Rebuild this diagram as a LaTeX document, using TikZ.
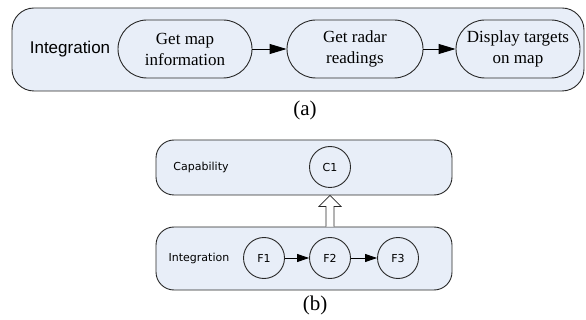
\documentclass[tikz,border=0pt]{standalone}
\usepackage{fontspec}
\setmainfont{Liberation Serif}
\newfontfamily\arialfont{Liberation Sans}
\newfontfamily\smallsans{DejaVu Sans}
\usetikzlibrary{arrows.meta,calc}
\definecolor{panelfill}{RGB}{232,238,248}
\definecolor{edgegray}{RGB}{40,40,40}
\tikzset{
  panel/.style={draw=edgegray, fill=panelfill, line width=0.9pt},
  pill/.style={draw=edgegray, line width=0.9pt, minimum height=58pt, rounded corners=29pt,
    align=center, font=\fontsize{17}{21}\selectfont, inner sep=0pt},
  func/.style={circle, draw=edgegray, line width=0.9pt, minimum size=41pt, inner sep=0pt,
    font=\smallsans\fontsize{11}{13}\selectfont},
  flowa/.style={line width=0.9pt, -{Triangle[length=17pt,width=10pt]}},
  flowb/.style={line width=0.8pt, -{Triangle[length=12pt,width=8pt]}},
  caption/.style={font=\fontsize{21}{24}\selectfont},
  rowlabel/.style={font=\smallsans\fontsize{11}{13}\selectfont}
}
\begin{document}
\begin{tikzpicture}[x=1pt,y=-1pt]
\useasboundingbox (0,0) rectangle (586,320);

% (a) integration flow
\node[panel, rounded corners=22pt, minimum width=572pt, minimum height=83pt] (outerA) at (298,49.5) {};
\node[font=\arialfont\fontsize{17}{20}\selectfont] (intA) at (70,49) {Integration};
\node[pill, minimum width=134pt] (p1) at (185,49) {Get map\\information};
\node[pill, minimum width=136pt] (p2) at (355,49) {Get radar\\readings};
\node[pill, minimum width=124pt] (p3) at (518,49) {Display targets\\on map};
\draw[flowa] (p1) -- (p2);
\draw[flowa] (p2) -- (p3);
\node[caption] (capA) at (305,110) {(a)};

% (b) capability over integration
\node[panel, rounded corners=18pt, minimum width=296pt, minimum height=55pt] (cap) at (304,167.5) {};
\node[panel, rounded corners=18pt, minimum width=296pt, minimum height=63pt] (integ) at (304,258.5) {};
\node[rowlabel] (capL) at (201,167) {Capability};
\node[rowlabel] (intL) at (199,258) {Integration};
\node[func] (C1) at (330,167) {C1};
\node[func] (F1) at (264,258) {F1};
\node[func] (F2) at (330,258) {F2};
\node[func] (F3) at (398,258) {F3};
\draw[flowb] (F1) -- (F2);
\draw[flowb] (F2) -- (F3);

% hollow arrow from the integration row up to the capability row
\coordinate (hbase) at (integ.north -| C1.center);
\coordinate (htip) at (cap.south -| C1.center);
\draw[draw=edgegray, fill=white, line width=0.7pt]
  ($(hbase)+(-4,0)$) -- ($(htip)+(-4,11)$) -- ($(htip)+(-11,11)$) -- (htip)
  -- ($(htip)+(11,11)$) -- ($(htip)+(4,11)$) -- ($(hbase)+(4,0)$);

\node[caption] (capB) at (315,305) {(b)};
\end{tikzpicture}
\end{document}
